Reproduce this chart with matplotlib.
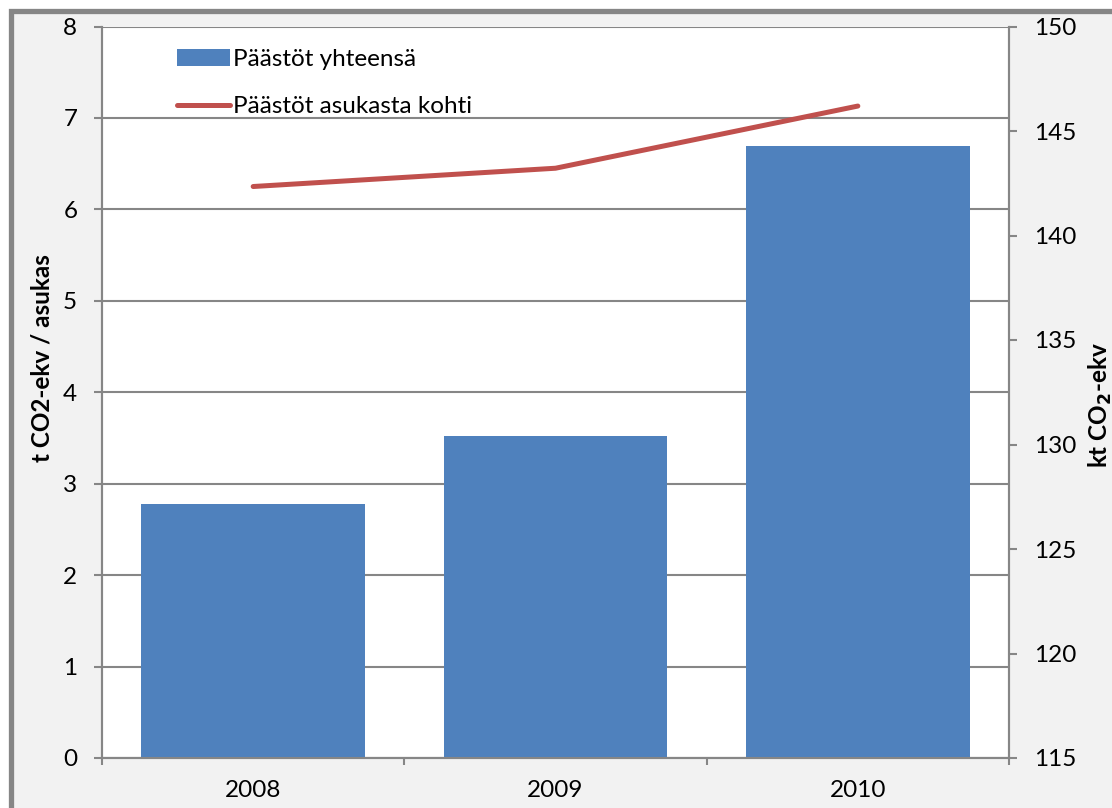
import matplotlib
matplotlib.use("Agg")
import matplotlib.pyplot as plt
from matplotlib.patches import Rectangle
from matplotlib.lines import Line2D
from matplotlib.patches import Patch

plt.rcParams['font.family'] = ['Lato', 'DejaVu Sans']

years = ["2008", "2009", "2010"]
total_kt = [127.15, 130.4, 144.3]          # Päästöt yhteensä, kt CO2-ekv
per_capita_t = [6.25, 6.45, 7.13]          # Päästöt asukasta kohti, t CO2-ekv / asukas
left_ticks = [0, 1, 2, 3, 4, 5, 6, 7, 8]
right_ticks = [115, 120, 125, 130, 135, 140, 145, 150]

BAR = "#4F81BD"
LINE = "#C0504D"
AXC = "#868686"
FS = 17.5

W, H = 1112, 808
fig = plt.figure(figsize=(W / 100, H / 100), dpi=100)
fig.patch.set_facecolor("white")

# chart area with a grey frame
frame = Rectangle((10.5 / W, -0.5), 1.5, 1 - 10.5 / H + 0.5, transform=fig.transFigure,
                  facecolor="#F2F2F2", edgecolor=AXC, linewidth=3.8, zorder=-5)
fig.patches.append(frame)

rect = [102 / W, (H - 758) / H, 907 / W, (758 - 26.5) / H]
ax = fig.add_axes(rect)
ax.set_facecolor("white")
x = list(range(len(years)))
ax.set_xlim(-0.5, len(years) - 0.5)
ax.set_ylim(left_ticks[0], left_ticks[-1])
ax.set_yticks(left_ticks)
ax.grid(axis="y", color=AXC, linewidth=1.5)
ax.grid(axis="x", visible=False)
ax.set_axisbelow(True)

ax_bar = ax.twinx()
ax_bar.bar(x, total_kt, width=0.74, color=BAR, zorder=2)
ax_bar.set_ylim(right_ticks[0], right_ticks[-1])
ax_bar.set_yticks(right_ticks)

ax_line = ax.twinx()
ax_line.set_ylim(left_ticks[0], left_ticks[-1])
ax_line.plot(x, per_capita_t, color=LINE, linewidth=3.6, solid_capstyle="round")
ax_line.axis("off")

for a in (ax, ax_bar):
    for s in a.spines.values():
        s.set_color(AXC)
        s.set_linewidth(1.5)
    a.spines["top"].set_visible(False)

ax.set_xticks(x)
ax.set_xticklabels(years)
ax.set_xticks([i - 0.5 for i in range(len(years) + 1)], minor=True)
ax.tick_params(axis="x", which="major", length=0, pad=16, labelsize=FS)
ax.tick_params(axis="x", which="minor", length=5, width=1.5, color=AXC)
ax.tick_params(axis="y", length=5.8, width=1.5, color=AXC, pad=12, labelsize=FS)
ax_bar.tick_params(axis="y", length=5.8, width=1.5, color=AXC, pad=12, labelsize=FS)

fig.text(42 / W, 1 - 358 / H, "t CO2-ekv / asukas", rotation=90, ha="center", va="center",
         fontsize=FS, fontweight="bold")
fig.text(1100 / W, 1 - 405 / H, r"kt CO$_\mathbf{2}$-ekv", rotation=90, ha="center", va="center",
         fontsize=FS, fontweight="bold")

handles = [Patch(facecolor=BAR, edgecolor="none"),
           Line2D([0], [0], color=LINE, linewidth=3.6, solid_capstyle="round")]
labels = ["Päästöt yhteensä", "Päästöt asukasta kohti"]
ax_line.legend(handles, labels, loc="upper left", bbox_to_anchor=((170 - 102) / 907, 1 - 15 / 731.5),
               frameon=False, fontsize=FS, handlelength=2.15, handletextpad=0.15,
               labelspacing=1.08, borderaxespad=0, borderpad=0.3)

fig.savefig("out.png", dpi=100)
